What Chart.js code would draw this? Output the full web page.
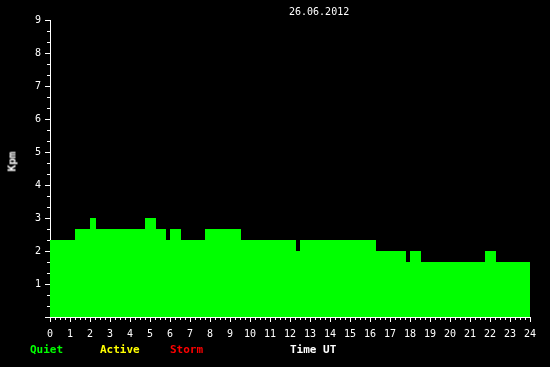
<!DOCTYPE html>
<html>
<head>
<meta charset="utf-8">
<script src="https://cdn.jsdelivr.net/npm/chart.js@4/dist/chart.umd.min.js"></script>
<style>
    body { margin: 0; background: #000; }
    #wrap { position: relative; width: 550px; height: 367px; background: #000; }
    #kpChart { position: absolute; left: 0; top: 0; }
    .lbl { position: absolute; font-family: "DejaVu Sans Mono", monospace; white-space: nowrap; }
    .bold { font-weight: bold; font-size: 11px; line-height: 13px; }
</style>
</head>
<body>
<div id="wrap">
    <canvas id="kpChart" width="550" height="367"></canvas>
    <div class="lbl" style="left:289px; top:6px; font-size:10px; line-height:12px; color:#fff;">26.06.2012</div>
    <div class="lbl bold" style="left:-8px; top:155px; width:40px; text-align:center; color:#fff; transform:rotate(-90deg);">Kpm</div>
    <div class="lbl bold" style="left:30px; top:343px; color:#00ff00;">Quiet</div>
    <div class="lbl bold" style="left:100px; top:343px; color:#ffff00;">Active</div>
    <div class="lbl bold" style="left:170px; top:343px; color:#ff0000;">Storm</div>
    <div class="lbl bold" style="left:290px; top:343px; color:#fff;">Time UT</div>
</div>
<script>
// debut de chaque palier (heures UT) et valeur Kpm
var heures = [0, 1.25, 2.0, 2.3, 4.75, 5.3, 5.8, 6.0, 6.55, 7.75, 9.55, 12.3, 12.5, 16.3, 17.8, 18.0, 18.55, 21.75, 22.3, 24.05];
var kpm = [2.33, 2.67, 3.0, 2.67, 3.0, 2.67, 2.33, 2.67, 2.33, 2.67, 2.33, 2.0, 2.33, 2.0, 1.67, 2.0, 1.67, 2.0, 1.67, 1.67];
var xTicks = [0, 24];
var yTicks = [0, 9];

var points = [];
for (var i = 0; i < heures.length; i++) {
    points.push({ x: heures[i], y: kpm[i] });
}

// petits traits intermediaires (15 min en x, 1/3 en y)
var minorTicks = {
    id: 'minorTicks',
    afterDraw: function(chart) {
        var ctx = chart.ctx;
        var sx = chart.scales.x;
        var sy = chart.scales.y;
        ctx.save();
        ctx.strokeStyle = '#ffffff';
        ctx.lineWidth = 1;
        ctx.beginPath();
        for (var q = 1; q < 96; q++) {
            if (q % 4 == 0) continue;
            var px = Math.round(sx.getPixelForValue(q / 4)) + 0.5;
            ctx.moveTo(px, sy.bottom);
            ctx.lineTo(px, sy.bottom + 3);
        }
        for (var t = 1; t < 27; t++) {
            if (t % 3 == 0) continue;
            var py = Math.round(sy.getPixelForValue(t / 3)) + 0.5;
            ctx.moveTo(sx.left - 3, py);
            ctx.lineTo(sx.left, py);
        }
        ctx.stroke();
        ctx.restore();
    }
};

var tickFont = { family: 'DejaVu Sans Mono', size: 10 };

var ctx = document.getElementById('kpChart').getContext('2d');
var myChart = new Chart(ctx, {
    type: 'line',
    data: {
        datasets: [{
            label: 'Kpm',
            data: points,
            stepped: true,
            fill: 'origin',
            backgroundColor: '#00ff00',
            borderColor: '#00ff00',
            borderWidth: 0,
            pointRadius: 0,
            clip: { left: 0, right: 2, top: 0, bottom: 0 }
        }]
    },
    options: {
        responsive: false,
        animation: false,
        layout: { padding: { top: 20, right: 20, left: 0, bottom: 0 } },
        plugins: {
            legend: { display: false },
            tooltip: { enabled: false }
        },
        scales: {
            x: {
                type: 'linear',
                min: xTicks[0],
                max: xTicks[1],
                afterFit: function(scale) { scale.height = 50; },
                ticks: { stepSize: 1, color: '#ffffff', font: tickFont, padding: 6, maxRotation: 0, autoSkip: false },
                grid: { drawOnChartArea: false, tickLength: 5, tickColor: '#ffffff' },
                border: { color: '#ffffff' }
            },
            y: {
                min: yTicks[0],
                max: yTicks[1],
                afterFit: function(scale) { scale.width = 50; },
                ticks: {
                    stepSize: 1, color: '#ffffff', font: tickFont, padding: 4,
                    callback: function(v) { return v == 0 ? '' : v; }
                },
                grid: { drawOnChartArea: false, tickLength: 5, tickColor: '#ffffff' },
                border: { color: '#ffffff' }
            }
        }
    },
    plugins: [minorTicks]
});
</script>
</body>
</html>
